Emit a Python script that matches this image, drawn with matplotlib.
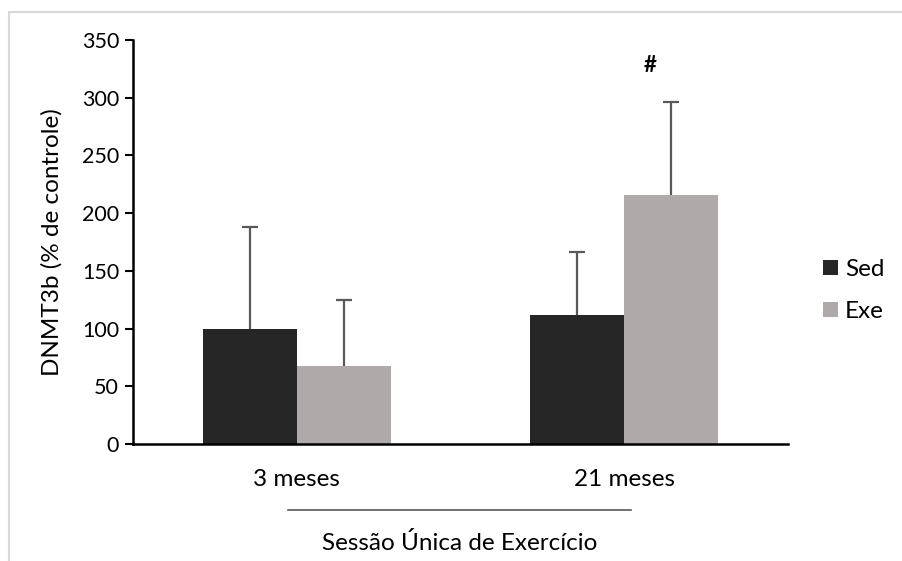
import numpy as np
import matplotlib.pyplot as plt
from matplotlib.patches import Rectangle
from matplotlib.lines import Line2D

plt.rcParams['font.family'] = ['Lato', 'DejaVu Sans']

# data
grupos = ["3 meses", "21 meses"]
series = ["Sed", "Exe"]
sed = [100, 112]
exe = [68, 216]
sed_err = [88, 54]
exe_err = [57, 80]
cores = ["#262626", "#AEAAAA"]

W, H = 903, 561
fig = plt.figure(figsize=(W / 100, H / 100), dpi=100)

# outer frame
fig.patches.append(Rectangle((9 / W, -0.1), 1.2, 1 - 12 / H + 0.1,
                             transform=fig.transFigure, fill=False,
                             edgecolor="#D9D9D9", lw=1.5))

ax = fig.add_axes([133 / W, (H - 444) / H, 655 / W, 404 / H])

x = np.arange(len(grupos))
w = 0.287
ax.bar(x - w / 2, sed, w, color=cores[0], label=series[0])
ax.bar(x + w / 2, exe, w, color=cores[1], label=series[1])

# upper error bars only
pos = np.concatenate([x - w / 2, x + w / 2])
base = np.array(sed + exe)
topo = base + np.array(sed_err + exe_err)
ax.vlines(pos, base, topo, color="#595959", lw=1.6, zorder=3)
ax.plot(pos, topo, ls="none", marker="_", ms=11, mew=1.6,
        color="#595959", zorder=3)

ax.text(x[1] + 0.08, 328, "#", ha="center", va="center", fontsize=16,
        fontweight="bold")

txt = 17.5
ax.set_xlim(-0.5, 1.5)
ax.set_ylim(0, 350)
ax.set_yticks(range(0, 351, 50))
ax.set_xticks(x)
ax.set_xticklabels(grupos, fontsize=txt)
ax.tick_params(axis="x", length=0, pad=18)
ax.tick_params(axis="y", length=6, width=1.5, labelsize=15.5, pad=4)
for s in ["top", "right"]:
    ax.spines[s].set_visible(False)
for s in ["left", "bottom"]:
    ax.spines[s].set_linewidth(1.8)
ax.set_ylabel("DNMT3b (% de controle)", fontsize=txt, labelpad=14)

leg = ax.legend(loc="center left", bbox_to_anchor=(1.02, 0.38), frameon=False,
                fontsize=txt, handlelength=0.6, handleheight=0.6,
                handletextpad=0.3, labelspacing=0.85)

# bracket under the categories
fig.lines.append(Line2D([288 / W, 631 / W], [1 - 510 / H, 1 - 510 / H],
                        transform=fig.transFigure, color="#595959", lw=1.2))
fig.text(460 / W, 1 - 543 / H, "Sessão Única de Exercício", ha="center",
         va="center", fontsize=txt)

fig.savefig("out.png", dpi=100)
